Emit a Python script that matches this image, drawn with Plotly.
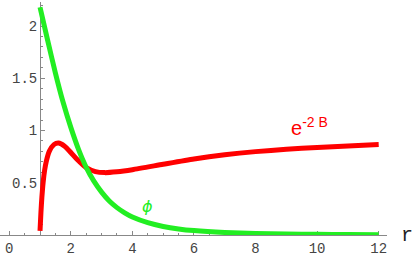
import plotly.graph_objects as go

# e^{-2B} curve (red)
r_red = [1.0, 1.03, 1.06, 1.1, 1.15, 1.2, 1.3, 1.45, 1.6, 1.8, 2.0, 2.2, 2.5, 2.8, 3.1, 3.5,
         4.0, 5.0, 6.0, 7.0, 8.0, 9.0, 10.0, 11.0, 12.0]
e2b = [0.04, 0.22, 0.36, 0.50, 0.62, 0.70, 0.80, 0.865, 0.88, 0.85, 0.79, 0.725, 0.645, 0.607,
       0.597, 0.605, 0.625, 0.677, 0.728, 0.768, 0.798, 0.82, 0.838, 0.852, 0.865]

# phi curve (green)
r_green = [1.0, 1.25, 1.5, 1.75, 2.0, 2.25, 2.5, 2.75, 3.0, 3.25, 3.5, 3.75, 4.0, 4.5, 5.0,
           5.5, 6.0, 7.0, 8.0, 9.0, 10.0, 11.0, 12.0]
phi = [2.18, 1.86, 1.55, 1.27, 1.03, 0.82, 0.648, 0.515, 0.41, 0.325, 0.262, 0.212, 0.172,
       0.118, 0.082, 0.058, 0.042, 0.024, 0.014, 0.009, 0.006, 0.004, 0.003]

x_ticks = [0, 2, 4, 6, 8, 10, 12]
y_ticks = [0.5, 1, 1.5, 2]
y_tick_text = ["0.5", "1", "1.5", "2"]

x_range = [-0.30, 12.27]
y_range = [0, 2.23]

fig = go.Figure()
fig.add_trace(go.Scatter(x=r_red, y=e2b, mode="lines", line=dict(color="#ff0000", width=5, shape="spline", smoothing=0.6),
                         hoverinfo="skip"))
fig.add_trace(go.Scatter(x=r_green, y=phi, mode="lines", line=dict(color="#22ee22", width=5, shape="spline", smoothing=0.6),
                         hoverinfo="skip"))

ypos = (1 - x_range[0]) / (x_range[1] - x_range[0])
tickfont = dict(family="Liberation Mono, Courier New, monospace", size=14, color="#444444")

fig.update_layout(
    width=415, height=257,
    margin=dict(l=0, r=28, t=2, b=22, autoexpand=False),
    paper_bgcolor="white", plot_bgcolor="white",
    showlegend=False,
    xaxis=dict(range=x_range, showgrid=False, zeroline=False, showline=True, linecolor="#888888",
               linewidth=1, tickvals=x_ticks, ticktext=[str(v) for v in x_ticks], ticks="inside",
               ticklen=4, tickcolor="#888888", tickfont=tickfont, automargin=False, layer="below traces",
               minor=dict(dtick=0.5, tick0=0, ticks="inside", ticklen=2, tickcolor="#888888")),
    yaxis=dict(range=y_range, showgrid=False, zeroline=False, showline=True, linecolor="#888888",
               linewidth=1, anchor="free", position=ypos, tickvals=y_ticks, ticktext=y_tick_text,
               ticks="inside", ticklen=4, tickcolor="#888888", tickfont=tickfont, automargin=False,
               layer="below traces",
               minor=dict(dtick=0.1, tick0=0, ticks="inside", ticklen=2, tickcolor="#888888")),
    annotations=[
        dict(x=1.0, xref="paper", y=0, yref="y", xanchor="left", yanchor="middle", xshift=12,
             text="r", showarrow=False,
             font=dict(family="Liberation Mono, Courier New, monospace", size=20, color="#222222")),
        dict(x=9.75, y=1.04, xref="x", yref="y", text="e<sup>-2 B</sup>", showarrow=False,
             font=dict(family="Liberation Sans, Arial, sans-serif", size=20, color="#ff0000")),
        dict(x=4.5, y=0.27, xref="x", yref="y", text="<i>ϕ</i>", showarrow=False,
             font=dict(family="DejaVu Sans, sans-serif", size=16, color="#22ee22")),
    ],
)

fig.write_html("out.html", config={"displayModeBar": False},
               post_script="document.body.style.margin='0';document.body.style.padding='0';")
